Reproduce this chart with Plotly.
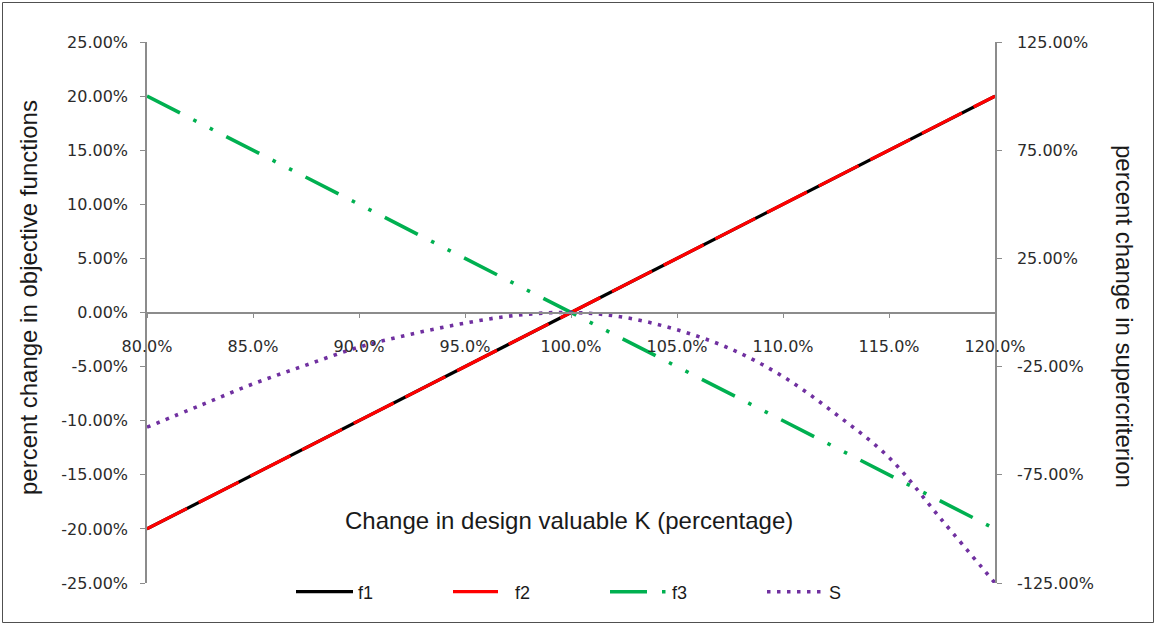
import plotly.graph_objects as go

# Design variable K as a fraction of the nominal value
k_values = [0.80, 0.825, 0.85, 0.875, 0.90, 0.925, 0.95, 0.975, 1.00,
            1.025, 1.05, 1.075, 1.10, 1.125, 1.15, 1.175, 1.20]

# Percent change of the objective functions (left axis)
f1_values = [-0.20, -0.175, -0.15, -0.125, -0.10, -0.075, -0.05, -0.025, 0.0,
             0.025, 0.05, 0.075, 0.10, 0.125, 0.15, 0.175, 0.20]
f2_values = [-0.20, -0.175, -0.15, -0.125, -0.10, -0.075, -0.05, -0.025, 0.0,
             0.025, 0.05, 0.075, 0.10, 0.125, 0.15, 0.175, 0.20]
f3_values = [0.20, 0.175, 0.15, 0.125, 0.10, 0.075, 0.05, 0.025, 0.0,
             -0.025, -0.05, -0.075, -0.10, -0.125, -0.15, -0.175, -0.20]

# Percent change of the supercriterion (right axis)
s_values = [-0.53, -0.43, -0.33, -0.243, -0.16, -0.099, -0.049, -0.012, 0.0,
            -0.022, -0.08, -0.167, -0.296, -0.47, -0.67, -0.96, -1.25]

x_ticks = [0.80, 0.85, 0.90, 0.95, 1.00, 1.05, 1.10, 1.15, 1.20]
left_ticks = [-0.25, -0.20, -0.15, -0.10, -0.05, 0.0, 0.05, 0.10, 0.15, 0.20, 0.25]
right_ticks = [-1.25, -0.75, -0.25, 0.25, 0.75, 1.25]

# Tick texts with a plain hyphen as the minus sign
left_text = [f"{v:.2%}" for v in left_ticks]
right_text = [f"{v:.2%}" for v in right_ticks]
x_text = [f"{v:.1%}" for v in x_ticks]

W, H = 1156, 625
L, R, T, B = 147, 161, 42, 42
PW, PH = W - L - R, H - T - B


def px_x(px):
    return (px - L) / PW


def px_y(py):
    return (H - B - py) / PH


AXIS_GREY = "#8c8c8c"
TICK_FONT = dict(family="DejaVu Sans", size=16, color="#2b2b2b")
TITLE_FONT = dict(family="Liberation Sans", size=24, color="#1a1a1a")

fig = go.Figure()

fig.add_trace(go.Scatter(x=k_values, y=f1_values, name="f1", mode="lines",
                         line=dict(color="black", width=3.2)))
fig.add_trace(go.Scatter(x=k_values, y=f2_values, name="f2", mode="lines",
                         line=dict(color="#ff0000", width=3.2, dash="45px,13px")))
fig.add_trace(go.Scatter(x=k_values, y=f3_values, name="f3", mode="lines",
                         line=dict(color="#00b050", width=3.6,
                                   dash="37px,15px,3.5px,15px,3.5px,15px")))
fig.add_trace(go.Scatter(x=k_values, y=s_values, name="S", mode="lines",
                         yaxis="y2", line=dict(color="#7030a0", width=3.6,
                                               dash="3.5px,6.5px", shape="spline")))

fig.update_layout(
    width=W, height=H,
    margin=dict(l=L, r=R, t=T, b=B, autoexpand=False),
    paper_bgcolor="white", plot_bgcolor="white",
    showlegend=True,
    legend=dict(orientation="h", x=px_x(291), y=px_y(592), xanchor="left",
                yanchor="middle", entrywidth=85, entrywidthmode="pixels",
                font=dict(family="Liberation Sans", size=18, color="#1a1a1a"),
                bgcolor="rgba(0,0,0,0)", itemwidth=57, tracegroupgap=0),
    xaxis=dict(range=[0.80, 1.20], tickvals=x_ticks, ticktext=x_text,
               anchor="free", position=0.5, showline=True, linecolor=AXIS_GREY,
               linewidth=1.5, ticks="outside", ticklen=5, tickcolor=AXIS_GREY,
               tickfont=TICK_FONT, ticklabelstandoff=15, showgrid=False,
               zeroline=False),
    yaxis=dict(range=[-0.25, 0.25], tickvals=left_ticks, ticktext=left_text,
               showline=True, linecolor=AXIS_GREY, linewidth=1.5, ticks="outside",
               ticklen=5, tickcolor=AXIS_GREY, tickfont=TICK_FONT, showgrid=False,
               zeroline=False, ticklabelstandoff=9),
    yaxis2=dict(range=[-1.25, 1.25], tickvals=right_ticks, ticktext=right_text,
                overlaying="y", side="right", showline=True, linecolor=AXIS_GREY,
                linewidth=1.5, ticks="outside", ticklen=5, tickcolor=AXIS_GREY,
                tickfont=TICK_FONT, showgrid=False, zeroline=False,
                ticklabelstandoff=12),
    annotations=[
        dict(text="Change in design valuable K (percentage)", xref="paper",
             yref="paper", x=px_x(569), y=px_y(520), showarrow=False,
             font=TITLE_FONT, xanchor="center", yanchor="middle"),
        dict(text="percent change in objective functions", xref="paper",
             yref="paper", x=px_x(28), y=px_y(298), showarrow=False,
             textangle=-90, font=TITLE_FONT, xanchor="center", yanchor="middle"),
        dict(text="percent change in supercriterion", xref="paper",
             yref="paper", x=px_x(1125), y=px_y(316), showarrow=False,
             textangle=90, font=TITLE_FONT, xanchor="center", yanchor="middle"),
    ],
    shapes=[
        dict(type="rect", xref="paper", yref="paper",
             x0=px_x(2.5), x1=px_x(1153.5), y0=px_y(622.5), y1=px_y(2.5),
             line=dict(color="#505050", width=1), fillcolor="rgba(0,0,0,0)",
             layer="below"),
    ],
)

fig.write_html("out.html")
